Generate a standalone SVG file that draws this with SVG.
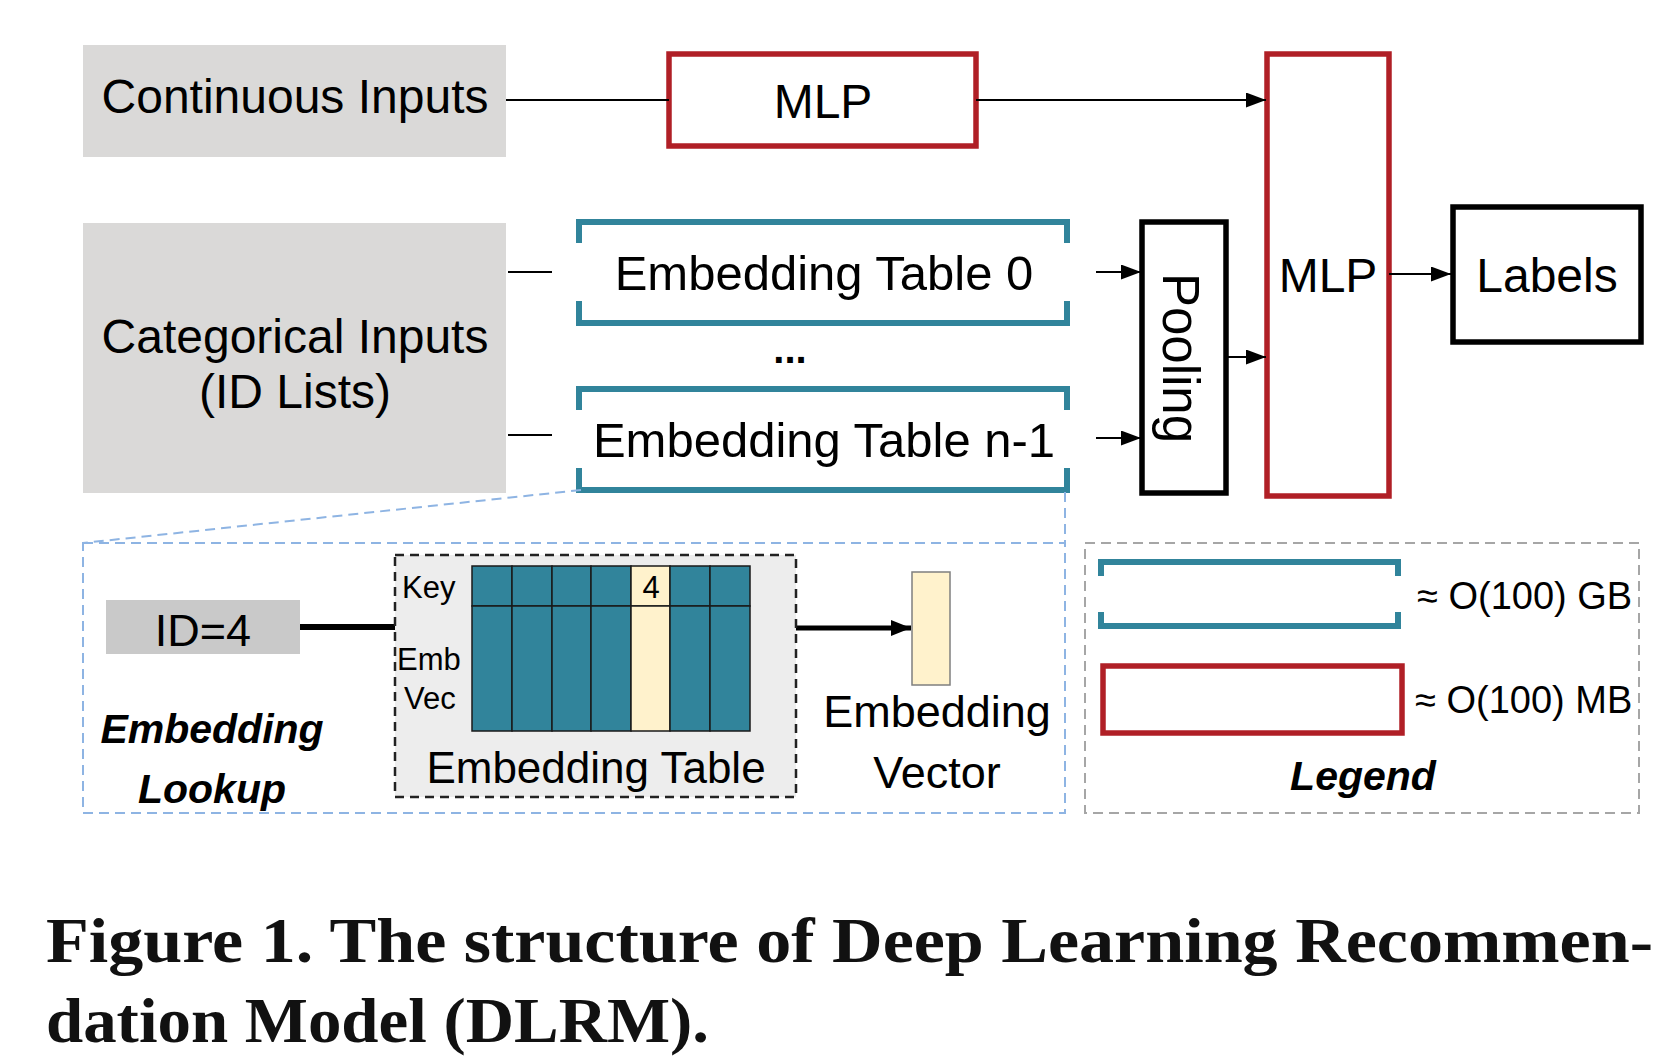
<svg xmlns="http://www.w3.org/2000/svg" width="1678" height="1058" viewBox="0 0 1678 1058">
<style>
.t{font-family:"Liberation Sans",Arial,sans-serif;fill:#000;}
.m{font-size:48px;text-anchor:middle;}
.e{font-size:49px;text-anchor:middle;}
.bi{font-weight:bold;font-style:italic;font-size:41px;text-anchor:middle;}
.sm{font-size:31px;}
.cap{font-family:"Liberation Serif","Times New Roman",serif;font-weight:bold;font-size:64px;fill:#111;}
.grey{fill:#DAD9D8;}
.red{fill:none;stroke:#B01F26;stroke-width:5.5;}
.blk{fill:none;stroke:#000;stroke-width:5.5;}
.teal{fill:none;stroke:#31849B;stroke-width:6;}
.ln{stroke:#000;stroke-width:2;fill:none;}
.cell{fill:#31849B;stroke:#1a1a1a;stroke-width:1.5;}
.ycell{fill:#FFF2CC;stroke:#1a1a1a;stroke-width:1.5;}
</style>
<defs>
<marker id="ah" viewBox="0 0 20 15" refX="20" refY="7.5" markerWidth="20" markerHeight="15" markerUnits="userSpaceOnUse" orient="auto">
<path d="M0,0 L20,7.5 L0,15 z" fill="#000"/>
</marker>
<marker id="ahb" viewBox="0 0 20 16" refX="20" refY="8" markerWidth="20" markerHeight="16" markerUnits="userSpaceOnUse" orient="auto">
<path d="M0,0 L20,8 L0,16 z" fill="#000"/>
</marker>
</defs>
<rect width="1678" height="1058" fill="#fff"/>

<g id="continuous">
<rect x="83" y="45" width="423" height="112" class="grey"/>
<text class="t m" x="295" y="113">Continuous Inputs</text>
</g>
<g id="mlp-top">
<rect x="669" y="54" width="307" height="92" class="red"/>
<text class="t m" x="823" y="118">MLP</text>
</g>
<g id="categorical">
<rect x="83" y="223" width="423" height="270" class="grey"/>
<text class="t m" x="295" y="353">Categorical Inputs</text>
<text class="t m" x="295" y="408">(ID Lists)</text>
</g>
<g id="emb0">
<path class="teal" d="M579,243 V222 H1067 V243 M579,301 V323 H1067 V301"/>
<text class="t e" x="824" y="290">Embedding Table 0</text>
</g>
<g id="dots">
<text class="t" x="790" y="363" font-size="40" font-weight="bold" text-anchor="middle">...</text>
</g>
<g id="embn">
<path class="teal" d="M579,410 V389 H1067 V410 M579,468 V490 H1067 V468"/>
<text class="t e" x="824" y="457">Embedding Table n-1</text>
</g>
<g id="pooling">
<rect x="1142" y="222" width="84" height="271" class="blk"/>
<text class="t" transform="translate(1163,358) rotate(90)" font-size="51" text-anchor="middle">Pooling</text>
</g>
<g id="mlp-big">
<rect x="1267" y="54" width="122" height="442" class="red"/>
<text class="t m" x="1328" y="292">MLP</text>
</g>
<g id="labels">
<rect x="1453" y="207" width="188" height="135" class="blk"/>
<text class="t m" x="1547" y="292">Labels</text>
</g>

<g id="connectors">
<line class="ln" x1="506" y1="100" x2="669" y2="100"/>
<line class="ln" x1="976" y1="100" x2="1266" y2="100" marker-end="url(#ah)"/>
<line class="ln" x1="508" y1="272" x2="552" y2="272"/>
<line class="ln" x1="508" y1="435" x2="552" y2="435"/>
<line class="ln" x1="1096" y1="272" x2="1141" y2="272" marker-end="url(#ah)"/>
<line class="ln" x1="1096" y1="438" x2="1141" y2="438" marker-end="url(#ah)"/>
<line class="ln" x1="1226" y1="357" x2="1266" y2="357" marker-end="url(#ah)"/>
<line class="ln" x1="1389" y1="274" x2="1451" y2="274" marker-end="url(#ah)"/>
<line x1="300" y1="627" x2="396" y2="627" stroke="#000" stroke-width="6"/>
<line x1="796" y1="628" x2="911" y2="628" stroke="#000" stroke-width="5" marker-end="url(#ahb)"/>
<path d="M581,490 L83,543 M1065,492 V543" fill="none" stroke="#8EB4E3" stroke-width="2" stroke-dasharray="10,6"/>
</g>

<g id="lookup">
<rect x="83" y="543" width="982" height="270" fill="none" stroke="#8EB4E3" stroke-width="2" stroke-dasharray="10,6"/>
<text class="t bi" x="212" y="743">Embedding</text>
<text class="t bi" x="212" y="803">Lookup</text>
</g>
<g id="id4">
<rect x="106" y="600" width="194" height="54" fill="#C9C9C9"/>
<text class="t" x="203" y="646" font-size="45" text-anchor="middle">ID=4</text>
</g>
<g id="emb-table">
<rect x="395" y="555" width="401" height="242" fill="#EDEDED" stroke="#222" stroke-width="2.5" stroke-dasharray="9,6"/>
<g>
<rect class="cell" x="472" y="566" width="40" height="40"/>
<rect class="cell" x="512" y="566" width="40" height="40"/>
<rect class="cell" x="552" y="566" width="39" height="40"/>
<rect class="cell" x="591" y="566" width="40" height="40"/>
<rect class="ycell" x="631" y="566" width="39" height="40"/>
<rect class="cell" x="670" y="566" width="40" height="40"/>
<rect class="cell" x="710" y="566" width="40" height="40"/>
<rect class="cell" x="472" y="606" width="40" height="125"/>
<rect class="cell" x="512" y="606" width="40" height="125"/>
<rect class="cell" x="552" y="606" width="39" height="125"/>
<rect class="cell" x="591" y="606" width="40" height="125"/>
<rect class="ycell" x="631" y="606" width="39" height="125"/>
<rect class="cell" x="670" y="606" width="40" height="125"/>
<rect class="cell" x="710" y="606" width="40" height="125"/>
</g>
<text class="t" x="651" y="598" font-size="31" text-anchor="middle">4</text>
<text class="t sm" x="402" y="598">Key</text>
<text class="t sm" x="397" y="670">Emb</text>
<text class="t sm" x="404" y="709">Vec</text>
<text class="t" x="596" y="783" font-size="44" text-anchor="middle">Embedding Table</text>
</g>
<g id="emb-vector">
<rect x="912" y="572" width="38" height="113" fill="#FFF2CC" stroke="#7F7F7F" stroke-width="1.5"/>
<text class="t" x="937" y="727" font-size="45" text-anchor="middle">Embedding</text>
<text class="t" x="937" y="788" font-size="45" text-anchor="middle">Vector</text>
</g>
<g id="legend">
<rect x="1085" y="543" width="554" height="270" fill="none" stroke="#A6A6A6" stroke-width="2" stroke-dasharray="10,6"/>
<path class="teal" d="M1101,576 V562 H1398 V576 M1101,612 V626 H1398 V612"/>
<rect x="1103" y="666" width="299" height="67" class="red"/>
<text class="t" x="1417" y="609" font-size="38">≈ O(100) GB</text>
<text class="t" x="1415" y="713" font-size="38">≈ O(100) MB</text>
<text class="t bi" x="1363" y="790">Legend</text>
</g>
<g id="caption">
<text class="cap" x="46" y="962" textLength="1607" lengthAdjust="spacingAndGlyphs">Figure 1. The structure of Deep Learning Recommen-</text>
<text class="cap" x="46" y="1042" textLength="663" lengthAdjust="spacingAndGlyphs">dation Model (DLRM).</text>
</g>
</svg>
